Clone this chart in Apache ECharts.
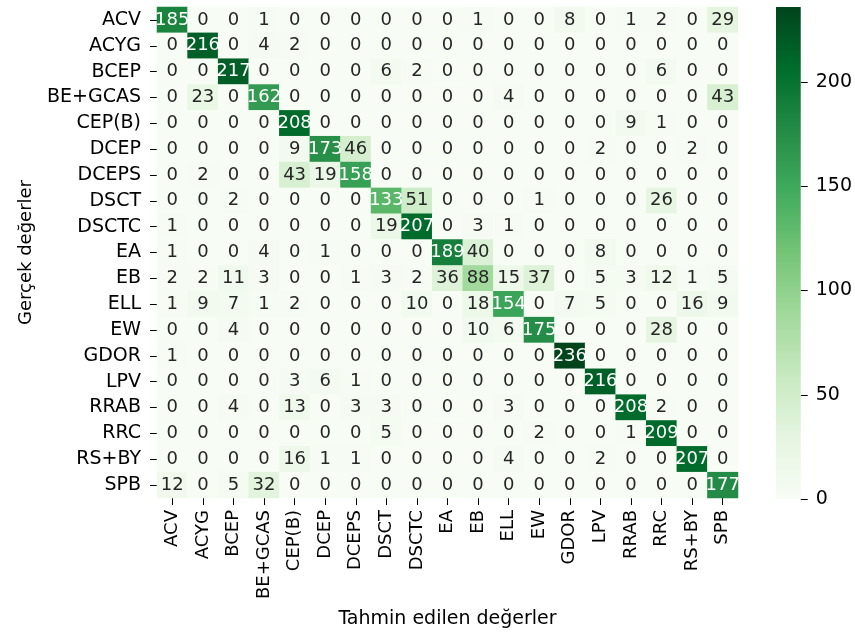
<!DOCTYPE html>
<html>
<head>
<meta charset="utf-8">
<title>Karışıklık matrisi</title>
<script src="https://cdn.jsdelivr.net/npm/echarts@6/dist/echarts.min.js"></script>
<style>
  html, body { margin: 0; padding: 0; background: #ffffff; }
  #chart { width: 855px; height: 634px; }
</style>
</head>
<body>
<div id="chart"></div>
<script>
// Variable-star classes (same order on both axes)
const classes = ['ACV', 'ACYG', 'BCEP', 'BE+GCAS', 'CEP(B)', 'DCEP', 'DCEPS', 'DSCT', 'DSCTC',
  'EA', 'EB', 'ELL', 'EW', 'GDOR', 'LPV', 'RRAB', 'RRC', 'RS+BY', 'SPB'];

// One row per true class: counts of predicted classes
const rowACV    = [185, 0, 0, 1, 0, 0, 0, 0, 0, 0, 1, 0, 0, 8, 0, 1, 2, 0, 29];
const rowACYG   = [0, 216, 0, 4, 2, 0, 0, 0, 0, 0, 0, 0, 0, 0, 0, 0, 0, 0, 0];
const rowBCEP   = [0, 0, 217, 0, 0, 0, 0, 6, 2, 0, 0, 0, 0, 0, 0, 0, 6, 0, 0];
const rowBEGCAS = [0, 23, 0, 162, 0, 0, 0, 0, 0, 0, 0, 4, 0, 0, 0, 0, 0, 0, 43];
const rowCEPB   = [0, 0, 0, 0, 208, 0, 0, 0, 0, 0, 0, 0, 0, 0, 0, 9, 1, 0, 0];
const rowDCEP   = [0, 0, 0, 0, 9, 173, 46, 0, 0, 0, 0, 0, 0, 0, 2, 0, 0, 2, 0];
const rowDCEPS  = [0, 2, 0, 0, 43, 19, 158, 0, 0, 0, 0, 0, 0, 0, 0, 0, 0, 0, 0];
const rowDSCT   = [0, 0, 2, 0, 0, 0, 0, 133, 51, 0, 0, 0, 1, 0, 0, 0, 26, 0, 0];
const rowDSCTC  = [1, 0, 0, 0, 0, 0, 0, 19, 207, 0, 3, 1, 0, 0, 0, 0, 0, 0, 0];
const rowEA     = [1, 0, 0, 4, 0, 1, 0, 0, 0, 189, 40, 0, 0, 0, 8, 0, 0, 0, 0];
const rowEB     = [2, 2, 11, 3, 0, 0, 1, 3, 2, 36, 88, 15, 37, 0, 5, 3, 12, 1, 5];
const rowELL    = [1, 9, 7, 1, 2, 0, 0, 0, 10, 0, 18, 154, 0, 7, 5, 0, 0, 16, 9];
const rowEW     = [0, 0, 4, 0, 0, 0, 0, 0, 0, 0, 10, 6, 175, 0, 0, 0, 28, 0, 0];
const rowGDOR   = [1, 0, 0, 0, 0, 0, 0, 0, 0, 0, 0, 0, 0, 236, 0, 0, 0, 0, 0];
const rowLPV    = [0, 0, 0, 0, 3, 6, 1, 0, 0, 0, 0, 0, 0, 0, 216, 0, 0, 0, 0];
const rowRRAB   = [0, 0, 4, 0, 13, 0, 3, 3, 0, 0, 0, 3, 0, 0, 0, 208, 2, 0, 0];
const rowRRC    = [0, 0, 0, 0, 0, 0, 0, 5, 0, 0, 0, 0, 2, 0, 0, 1, 209, 0, 0];
const rowRSBY   = [0, 0, 0, 0, 16, 1, 1, 0, 0, 0, 0, 4, 0, 0, 2, 0, 0, 207, 0];
const rowSPB    = [12, 0, 5, 32, 0, 0, 0, 0, 0, 0, 0, 0, 0, 0, 0, 0, 0, 0, 177];

const rows = [rowACV, rowACYG, rowBCEP, rowBEGCAS, rowCEPB, rowDCEP, rowDCEPS, rowDSCT, rowDSCTC,
  rowEA, rowEB, rowELL, rowEW, rowGDOR, rowLPV, rowRRAB, rowRRC, rowRSBY, rowSPB];

// Colour bar range and ticks
const colorMin = 0;
const colorMax = 236;
const colorTicks = [0, 50, 100, 150, 200];

// Sequential green palette
const greens = ['#f7fcf5', '#e5f5e0', '#c7e9c0', '#a1d99b', '#74c476', '#41ab5d', '#238b45', '#006d2c', '#00441b'];

const FONT = 'DejaVu Sans';
const TEXT = '#262626';
const TICK = { show: true, alignWithLabel: true, length: 7, lineStyle: { color: '#000', width: 1 } };

const cells = [];
rows.forEach((row, yi) => row.forEach((v, xi) => cells.push({
  value: [xi, yi, v],
  label: { color: v > 115 ? '#ffffff' : TEXT }   // white text on the darker cells
})));

const chart = echarts.init(document.getElementById('chart'), null, { renderer: 'canvas' });

chart.setOption({
  backgroundColor: '#ffffff',
  animation: false,
  textStyle: { fontFamily: FONT },
  grid: [
    { left: 157, top: 7, width: 581, height: 492 },
    { left: 776, top: 7, width: 25, height: 492 }
  ],
  xAxis: [
    {
      gridIndex: 0,
      type: 'category',
      data: classes,
      position: 'bottom',
      axisLine: { show: false },
      axisTick: TICK,
      axisLabel: { rotate: 90, fontSize: 18, color: '#000', margin: 12, fontFamily: FONT, interval: 0 },
      splitLine: { show: false },
      name: 'Tahmin edilen değerler',
      nameLocation: 'middle',
      nameGap: 112,
      nameTextStyle: { fontSize: 19, color: '#000', fontFamily: FONT }
    },
    {
      gridIndex: 1,
      type: 'category',
      data: ['bar'],
      show: false
    }
  ],
  yAxis: [
    {
      gridIndex: 0,
      type: 'category',
      data: classes,
      inverse: true,
      axisLine: { show: false },
      axisTick: TICK,
      axisLabel: { fontSize: 19, color: '#000', margin: 16, fontFamily: FONT, interval: 0 },
      splitLine: { show: false },
      name: 'Gerçek değerler',
      nameLocation: 'middle',
      nameGap: 122,
      nameRotate: 90,
      nameTextStyle: { fontSize: 18, color: '#000', fontFamily: FONT }
    },
    {
      gridIndex: 1,
      type: 'value',
      min: colorMin,
      max: colorMax,
      position: 'right',
      axisLine: { show: false },
      splitLine: { show: false },
      axisLabel: {
        fontSize: 19, color: '#000', margin: 15, fontFamily: FONT,
        customValues: colorTicks
      },
      axisTick: { show: true, length: 7, lineStyle: { color: '#000', width: 1 }, customValues: colorTicks }
    }
  ],
  visualMap: {
    show: false,
    type: 'continuous',
    min: colorMin,
    max: colorMax,
    seriesIndex: 0,
    inRange: { color: greens }
  },
  series: [
    {
      type: 'heatmap',
      xAxisIndex: 0,
      yAxisIndex: 0,
      data: cells,
      itemStyle: { borderWidth: 0 },
      label: {
        show: true,
        fontSize: 18,
        fontFamily: FONT,
        formatter: p => String(p.value[2]),
        color: TEXT
      },
      emphasis: { disabled: true }
    },
    {
      // Colour bar drawn as one full-height bar on its own value axis
      type: 'bar',
      xAxisIndex: 1,
      yAxisIndex: 1,
      data: [colorMax],
      barWidth: '100%',
      silent: true,
      itemStyle: {
        color: new echarts.graphic.LinearGradient(0, 1, 0, 0,
          greens.map((c, i) => ({ offset: i / (greens.length - 1), color: c })))
      }
    }
  ]
});
</script>
</body>
</html>
